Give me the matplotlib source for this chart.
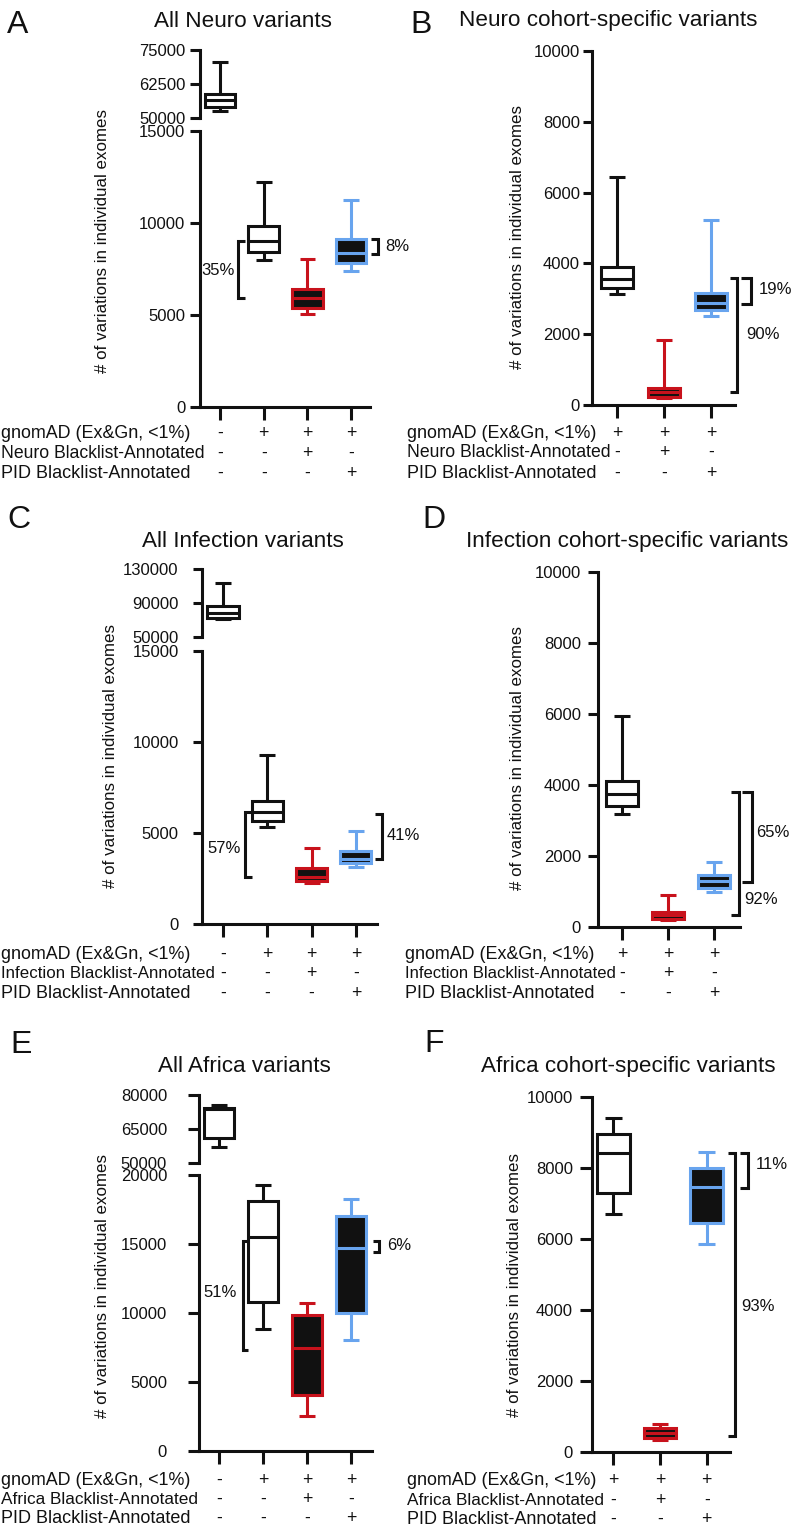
import matplotlib
matplotlib.use("Agg")
import matplotlib.pyplot as plt
from matplotlib.transforms import blended_transform_factory

plt.rcParams["font.family"] = ["Liberation Sans", "DejaVu Sans"]

# ======================= DATA =======================
# box stats per group: [lower whisker, Q1, median, Q3, upper whisker]
panel_letters = ["A", "B", "C", "D", "E", "F"]
titles = ["All Neuro variants", "Neuro cohort-specific variants",
          "All Infection variants", "Infection cohort-specific variants",
          "All Africa variants", "Africa cohort-specific variants"]

neuro_all = [[52700, 53900, 56600, 58800, 70500],
             [7990, 8440, 9040, 9850, 12230],
             [5050, 5400, 5900, 6410, 8040],
             [7410, 7840, 8350, 9110, 11250]]
neuro_specific = [[3140, 3300, 3550, 3890, 6440],
                  [190, 230, 360, 470, 1840],
                  [2520, 2680, 2880, 3150, 5230]]
infection_all = [[71500, 72700, 78600, 86800, 114000],
                 [5310, 5680, 6130, 6740, 9300],
                 [2250, 2400, 2600, 3080, 4180],
                 [3130, 3350, 3600, 4040, 5130]]
infection_specific = [[3170, 3400, 3740, 4100, 5940],
                      [180, 210, 320, 420, 890],
                      [990, 1080, 1300, 1460, 1830]]
africa_all = [[57100, 60800, 73600, 74100, 75600],
              [8850, 10790, 15480, 18080, 19240],
              [2530, 4060, 7460, 9840, 10690],
              [8020, 10020, 14680, 17060, 18270]]
africa_specific = [[6700, 7310, 8430, 8960, 9430],
                   [330, 390, 520, 660, 780],
                   [5860, 6440, 7460, 8000, 8460]]

styles_all = ["white", "white", "red", "blue"]
styles_specific = ["white", "red", "blue"]

upper_ticks_neuro = [50000, 62500, 75000]
upper_ticks_infection = [50000, 90000, 130000]
upper_ticks_africa = [50000, 65000, 80000]
lower_ticks_15k = [0, 5000, 10000, 15000]
lower_ticks_20k = [0, 5000, 10000, 15000, 20000]
specific_ticks = [0, 2000, 4000, 6000, 8000, 10000]

ylabel = "# of variations in individual exomes"

rows_neuro = ["gnomAD (Ex&Gn, <1%)", "Neuro Blacklist-Annotated", "PID Blacklist-Annotated"]
rows_infection = ["gnomAD (Ex&Gn, <1%)", "Infection Blacklist-Annotated", "PID Blacklist-Annotated"]
rows_africa = ["gnomAD (Ex&Gn, <1%)", "Africa Blacklist-Annotated", "PID Blacklist-Annotated"]
signs_all = [["-", "+", "+", "+"], ["-", "-", "+", "-"], ["-", "-", "-", "+"]]
signs_specific = [["+", "+", "+"], ["-", "+", "-"], ["-", "-", "+"]]

# brackets: (x, y_top, y_bottom, arm, label, label_y, gap_px)
brackets_neuro_all = [(1.41, 9040, 5900, 0.16, "35%", 7400, 2),
                      (4.62, 9110, 8330, -0.16, "8%", 8720, 6)]
brackets_neuro_spec = [(3.85, 3600, 2850, -0.21, "19%", 3250, 6),
                       (3.553, 3600, 360, -0.15, "90%", 2000, 8)]
brackets_inf_all = [(1.497, 6150, 2580, 0.16, "57%", 4150, 3),
                    (4.58, 6050, 3570, -0.16, "41%", 4880, 3.5)]
brackets_inf_spec = [(3.82, 3800, 1270, -0.22, "65%", 2640, 3),
                     (3.543, 3790, 330, -0.17, "92%", 780, 4)]
brackets_afr_all = [(1.545, 15230, 7340, 0.12, "51%", 11500, 5),
                    (4.64, 15230, 14390, -0.14, "6%", 14850, 7)]
brackets_afr_spec = [(3.89, 8430, 7430, -0.17, "11%", 8115, 6),
                     (3.606, 8430, 443, -0.15, "93%", 4090, 5)]

# ======================= STYLE / LAYOUT =======================
W, H, DPI = 793, 1531, 100
BLACK = "#111111"
RED = "#c8121c"
BLUE = "#68a4ee"
LW = 2.2
COLORS = {"white": (BLACK, "white"), "red": (RED, BLACK), "blue": (BLUE, BLACK)}

fig = plt.figure(figsize=(W / DPI, H / DPI), dpi=DPI)
fig.patch.set_facecolor("white")


def fy(y):
    return 1 - y / H


def make_axes(left, right, top, bottom):
    return fig.add_axes([left / W, 1 - bottom / H, (right - left) / W, (bottom - top) / H])


def style_axes(ax, xl, yl, yticks, pad, ytl, nx=0, bottom=True):
    ax.set_xlim(*xl)
    ax.set_ylim(*yl)
    for s in ("top", "right"):
        ax.spines[s].set_visible(False)
    ax.spines["left"].set_linewidth(LW)
    ax.spines["left"].set_color(BLACK)
    ax.spines["left"].set_capstyle("projecting")
    if bottom:
        ax.spines["bottom"].set_linewidth(LW)
        ax.spines["bottom"].set_color(BLACK)
        ax.spines["bottom"].set_capstyle("projecting")
        ax.set_xticks(list(range(1, nx + 1)))
        ax.set_xticklabels([])
        ax.tick_params(axis="x", length=9, width=LW, direction="out", color=BLACK)
    else:
        ax.spines["bottom"].set_visible(False)
        ax.set_xticks([])
    ax.set_yticks(yticks)
    ax.set_yticklabels([str(t) for t in yticks])
    ax.tick_params(axis="y", length=ytl, width=LW, pad=pad, labelsize=12,
                   direction="out", color=BLACK, labelcolor=BLACK)
    ax.patch.set_visible(False)


def draw_box(ax, pos, vals, style):
    ec, fc = COLORS[style]
    lo, q1, med, q3, hi = vals
    st = [dict(whislo=lo, q1=q1, med=med, q3=q3, whishi=hi, fliers=[])]
    ax.bxp(st, positions=[pos], widths=0.7, capwidths=0.36, patch_artist=True,
           showfliers=False, manage_ticks=False,
           boxprops=dict(facecolor=fc, edgecolor=ec, linewidth=LW, joinstyle="miter"),
           medianprops=dict(color=ec, linewidth=LW, solid_capstyle="butt"),
           whiskerprops=dict(color=ec, linewidth=LW, solid_capstyle="butt"),
           capprops=dict(color=ec, linewidth=LW, solid_capstyle="butt"))


def draw_bracket(ax, br):
    x, y1, y2, arm, label, ly, gap = br
    ax.plot([x + arm, x, x, x + arm], [y1, y1, y2, y2], color=BLACK, lw=LW,
            clip_on=False, solid_joinstyle="miter", solid_capstyle="butt")
    if arm > 0:
        ax.annotate(label, xy=(x, ly), xytext=(-gap * 0.72 - 1, 0), textcoords="offset points",
                    ha="right", va="center", fontsize=12, annotation_clip=False, color=BLACK)
    else:
        ax.annotate(label, xy=(x, ly), xytext=(gap * 0.72 + 1, 0), textcoords="offset points",
                    ha="left", va="center", fontsize=12, annotation_clip=False, color=BLACK)


def draw_panel(idx, L, boxes, styles, lower_ticks, upper_ticks, upper_range,
               rows, signs, brackets):
    n = len(boxes)
    xl = (1 - (L["first"] - L["spine"]) / L["step"], 1 + (L["end"] - L["first"]) / L["step"])
    ax = make_axes(L["spine"], L["end"], L["top"], L["zero"])
    style_axes(ax, xl, (0, lower_ticks[-1]), lower_ticks, L["pad"], L["ytl"], nx=n)
    start = 0
    if upper_ticks is not None:
        axu = make_axes(L["spine"], L["end"], L["up_top"], L["up_bot"])
        style_axes(axu, xl, upper_range, upper_ticks, L["pad"], L["ytl"], bottom=False)
        draw_box(axu, 1, boxes[0], styles[0])
        start = 1
    for i in range(start, n):
        draw_box(ax, i + 1, boxes[i], styles[i])
    for br in brackets:
        draw_bracket(ax, br)
    # titles / labels
    fig.text(L["title"][0] / W, fy(L["title"][1]), titles[idx], ha="center",
             va="baseline", fontsize=16.2, color=BLACK)
    fig.text(L["letter"][0] / W, fy(L["letter"][1]), panel_letters[idx], ha="left",
             va="baseline", fontsize=23, color=BLACK)
    fig.text(L["ylab"][0] / W, fy(L["ylab"][1]), ylabel, rotation=90, ha="center",
             va="center", fontsize=12.2, color=BLACK)
    # condition table
    tr = blended_transform_factory(ax.transData, fig.transFigure)
    for r, (lab, sg) in enumerate(zip(rows, signs)):
        yb = fy(L["rows"][r])
        fig.text(L["rows_x"] / W, yb, lab, ha="left", va="baseline",
                 fontsize=L["row_fs"][r], color=BLACK)
        for j, s in enumerate(sg):
            ax.text(j + 1, yb, s, transform=tr, ha="center", va="baseline",
                    fontsize=12.7, color=BLACK, clip_on=False)
    return ax


layout_A = dict(spine=200, end=370, first=220, step=43.7, zero=407, top=131,
                up_top=50, up_bot=118, pad=3, ytl=7.5, ylab=(102.5, 241),
                title=(243, 27), letter=(7, 33.3), rows=[438.3, 458.3, 477.7], rows_x=1,
                row_fs=[12.9, 12.7, 13.0])
layout_B = dict(spine=592, end=735, first=617, step=47, zero=405, top=51,
                pad=2, ytl=6.8, ylab=(517.5, 237), title=(608, 26), letter=(410, 33),
                rows=[438.3, 457.3, 477.7], rows_x=407, row_fs=[12.9, 12.7, 13.0])
layout_C = dict(spine=202, end=377, first=223, step=44.3, zero=924.3, top=650.7,
                up_top=569.3, up_bot=637.3, pad=10, ytl=6.8, ylab=(111, 756),
                title=(242.5, 546.7), letter=(7, 528), rows=[959, 978.3, 997.7], rows_x=1,
                row_fs=[12.9, 12.2, 13.0])
layout_D = dict(spine=598, end=740, first=622, step=46, zero=926.7, top=571.7,
                pad=5, ytl=7.2, ylab=(517, 758), title=(627.5, 546.7), letter=(422, 528),
                rows=[959, 978.3, 998.3], rows_x=405, row_fs=[12.9, 12.0, 13.0])
layout_E = dict(spine=199, end=372, first=219, step=44, zero=1450.7, top=1175,
                up_top=1095, up_bot=1162.7, pad=15, ytl=8, ylab=(102.5, 1286),
                title=(244, 1071.7), letter=(10, 1053), rows=[1485, 1504.3, 1523.3], rows_x=1,
                row_fs=[12.9, 12.4, 13.0])
layout_F = dict(spine=591.7, end=730, first=613.3, step=46.7, zero=1451.7, top=1097.3,
                pad=5, ytl=8.5, ylab=(514.7, 1285), title=(628, 1071.7), letter=(424, 1052),
                rows=[1485, 1505, 1524.3], rows_x=407, row_fs=[12.9, 12.4, 13.0])

draw_panel(0, layout_A, neuro_all, styles_all, lower_ticks_15k, upper_ticks_neuro,
           (50000, 75000), rows_neuro, signs_all, brackets_neuro_all)
draw_panel(1, layout_B, neuro_specific, styles_specific, specific_ticks, None, None,
           rows_neuro, signs_specific, brackets_neuro_spec)
draw_panel(2, layout_C, infection_all, styles_all, lower_ticks_15k, upper_ticks_infection,
           (50000, 130000), rows_infection, signs_all, brackets_inf_all)
draw_panel(3, layout_D, infection_specific, styles_specific, specific_ticks, None, None,
           rows_infection, signs_specific, brackets_inf_spec)
draw_panel(4, layout_E, africa_all, styles_all, lower_ticks_20k, upper_ticks_africa,
           (50000, 80000), rows_africa, signs_all, brackets_afr_all)
draw_panel(5, layout_F, africa_specific, styles_specific, specific_ticks, None, None,
           rows_africa, signs_specific, brackets_afr_spec)

fig.savefig("out.png", dpi=DPI, facecolor="white")
